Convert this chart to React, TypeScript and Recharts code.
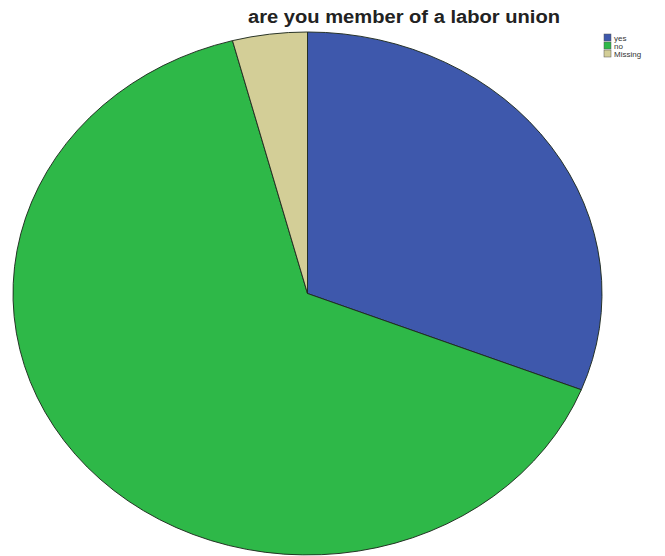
import * as React from "react"
import { PieChart, Pie, Cell } from "recharts"

const categories = ["yes", "no", "Missing"]
const percents = [31.0, 64.9, 4.1]
const colors = ["#3E58AC", "#2EB848", "#D3CE97"]

const title = "are you member of a labor union"

const data = categories.map((name, i) => ({ name, value: percents[i] }))

// the SPSS pie is an ellipse, so the circle is drawn taller and squashed
const SCALE_Y = 261.5 / 294.5

export default function App() {
  return (
    <div style={{ position: "absolute", left: 0, top: 0, width: 665, height: 556, overflow: "hidden", background: "#fff" }}>
      <div style={{ transform: `scaleY(${SCALE_Y})`, transformOrigin: "0 0" }}>
        <PieChart width={665} height={Math.round(556 / SCALE_Y)} margin={{ top: 0, right: 0, bottom: 0, left: 0 }}>
          <Pie
            data={data}
            dataKey="value"
            nameKey="name"
            cx={307.5}
            cy={293.5 / SCALE_Y}
            outerRadius={294.5}
            startAngle={90}
            endAngle={-270}
            stroke="#1f2a1f"
            strokeWidth={1}
            isAnimationActive={false}
          >
            {data.map((d, i) => (
              <Cell key={d.name} fill={colors[i]} />
            ))}
          </Pie>
        </PieChart>
      </div>
      <svg width={665} height={556} style={{ position: "absolute", left: 0, top: 0 }}>
        <text
          x={404}
          y={23}
          textAnchor="middle"
          fontFamily="Liberation Sans, Arial, sans-serif"
          fontWeight="bold"
          fontSize={18}
          textLength={312}
          lengthAdjust="spacingAndGlyphs"
          fill="#222"
        >
          {title}
        </text>
        {categories.map((c, i) => (
          <g key={c}>
            <rect x={604} y={34 + i * 8} width={7} height={7} fill={colors[i]} stroke="#555" strokeWidth={0.5} />
            <text x={614} y={41 + i * 8} fontFamily="Liberation Sans, Arial, sans-serif" fontSize={8} fill="#333">
              {c}
            </text>
          </g>
        ))}
      </svg>
    </div>
  )
}
